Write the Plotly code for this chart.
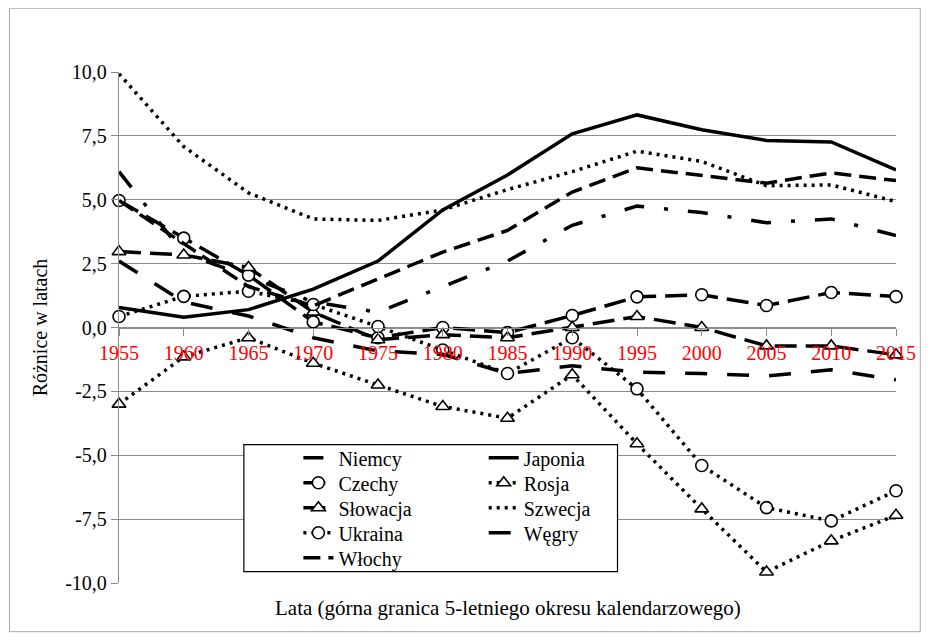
import plotly.graph_objects as go

years = [1955, 1960, 1965, 1970, 1975, 1980, 1985, 1990, 1995, 2000, 2005, 2010, 2015]

niemcy   = [6.1, 2.9, 2.0, 1.0, 0.6, 1.6, 2.6, 4.0, 4.75, 4.5, 4.1, 4.25, 3.6]
japonia  = [0.78, 0.4, 0.7, 1.5, 2.6, 4.6, 5.97, 7.58, 8.32, 7.74, 7.32, 7.26, 6.17]
czechy   = [4.97, 3.5, 2.05, 0.22, -0.4, 0.0, -0.2, 0.47, 1.2, 1.28, 0.86, 1.37, 1.21]
rosja    = [-3.0, -1.15, -0.4, -1.4, -2.25, -3.09, -3.55, -1.85, -4.55, -7.1, -9.57, -8.35, -7.35]
slowacja = [2.97, 2.84, 2.35, 0.6, -0.48, -0.28, -0.4, 0.0, 0.43, 0.0, -0.72, -0.72, -1.07]
szwecja  = [9.93, 7.08, 5.27, 4.25, 4.19, 4.6, 5.4, 6.1, 6.9, 6.5, 5.55, 5.58, 4.93]
ukraina  = [0.43, 1.22, 1.42, 0.9, 0.04, -0.88, -1.8, -0.4, -2.4, -5.4, -7.05, -7.57, -6.39]
wegry    = [2.6, 1.0, 0.45, -0.4, -0.92, -1.05, -1.8, -1.5, -1.75, -1.8, -1.9, -1.65, -2.05]
wlochy   = [4.97, 3.3, 1.6, 0.85, 1.9, 2.95, 3.8, 5.3, 6.25, 5.95, 5.65, 6.05, 5.75]

y_ticks = [-10, -7.5, -5, -2.5, 0, 2.5, 5, 7.5, 10]
y_ticktext = ["-10,0", "-7,5", "-5,0", "-2,5", "0,0", "2,5", "5,0", "7,5", "10,0"]

FONT = "Liberation Serif, Times New Roman, DejaVu Serif, serif"
GRID = "#8c8c8c"
LW = 3.5

OFF = 8  # page body margin
W, H = 920, 625
# plot area in page coordinates
P_L, P_R, P_T, P_B = 119, 903, 72.3, 583.3
L = P_L - OFF
T = P_T - OFF
R = W - (P_R - OFF)
B = H - (P_B - OFF)
PW = P_R - P_L
PH = P_B - P_T


def px2x(px):
    return (px - P_L) / PW


def py2y(py):
    return (P_B - py) / PH


# name, values, dash, marker, legend column, legend row
series = [
    ("Niemcy", niemcy, "20px,20px,4px,20px", None, 0, 0),
    ("Japonia", japonia, "solid", None, 1, 0),
    ("Czechy", czechy, "22px,9px", "circle", 0, 1),
    ("Rosja", rosja, "3px,5px", "triangle-up", 1, 1),
    ("Słowacja", slowacja, "22px,9px", "triangle-up", 0, 2),
    ("Szwecja", szwecja, "3px,5px", None, 1, 2),
    ("Ukraina", ukraina, "3px,5px", "circle", 0, 3),
    ("Węgry", wegry, "22px,20px", None, 1, 3),
    ("Włochy", wlochy, "17px,8px", None, 0, 4),
]

col_x = [300, 487]
row_y = [458, 483, 508, 533, 558]

fig = go.Figure()
legend_layouts = {}
for i, (name, vals, dash, sym, col, row) in enumerate(series):
    leg = "legend" if i == 0 else f"legend{i + 1}"
    kw = dict(
        x=years, y=vals, name=name, legend=leg,
        line=dict(color="black", width=LW, dash=dash),
        cliponaxis=False,
    )
    if sym:
        kw["mode"] = "lines+markers"
        kw["marker"] = dict(symbol=sym, size=12, color="white",
                            line=dict(color="black", width=1.6))
    else:
        kw["mode"] = "lines"
    fig.add_trace(go.Scatter(**kw))
    legend_layouts[leg] = dict(
        x=px2x(col_x[col]), y=py2y(row_y[row]), xanchor="left", yanchor="middle",
        bgcolor="rgba(0,0,0,0)", borderwidth=0,
        font=dict(family=FONT, size=20, color="black"),
        tracegroupgap=0, itemwidth=30,
    )

# legend box
fig.add_shape(type="rect", xref="paper", yref="paper",
              x0=px2x(245), x1=px2x(622), y0=py2y(572), y1=py2y(445),
              line=dict(color="black", width=1.2), fillcolor="white", layer="above")
# outer chart border
fig.add_shape(type="rect", xref="paper", yref="paper",
              x0=px2x(8.5), x1=px2x(927.5), y0=py2y(632), y1=py2y(8.5),
              line=dict(color="#a6a6a6", width=1), fillcolor="rgba(0,0,0,0)", layer="below")

fig.add_annotation(text="Lata (górna granica 5-letniego okresu kalendarzowego)",
                   xref="paper", yref="paper", x=px2x(511), y=py2y(608),
                   showarrow=False, font=dict(family=FONT, size=21, color="black"),
                   xanchor="center", yanchor="middle")

fig.update_layout(
    width=W, height=H,
    margin=dict(l=L, r=R, t=T, b=B, pad=0),
    paper_bgcolor="white", plot_bgcolor="white",
    separators=", ",
    font=dict(family=FONT, size=20, color="black"),
    showlegend=True,
    xaxis=dict(
        range=[1955, 2015], tickvals=years, ticktext=[str(y) for y in years],
        anchor="free", position=0.5,
        showline=True, linecolor=GRID, linewidth=1.3,
        ticks="outside", ticklen=7, tickcolor=GRID, tickwidth=1.3,
        showgrid=False, zeroline=False,
        tickfont=dict(family=FONT, size=20, color="red"),
        ticklabelstandoff=0,
    ),
    yaxis=dict(
        range=[-10, 10], tickvals=y_ticks, ticktext=y_ticktext,
        showline=True, linecolor=GRID, linewidth=1.3,
        ticks="outside", ticklen=7, tickcolor=GRID, tickwidth=1.3,
        showgrid=True, gridcolor=GRID, gridwidth=1.3,
        zeroline=False,
        tickfont=dict(family=FONT, size=20, color="black"),
        title=dict(text="Różnice w latach", font=dict(family=FONT, size=20, color="black"),
                   standoff=12),
    ),
)
fig.update_layout(**legend_layouts)

fig.write_html("out.html")
